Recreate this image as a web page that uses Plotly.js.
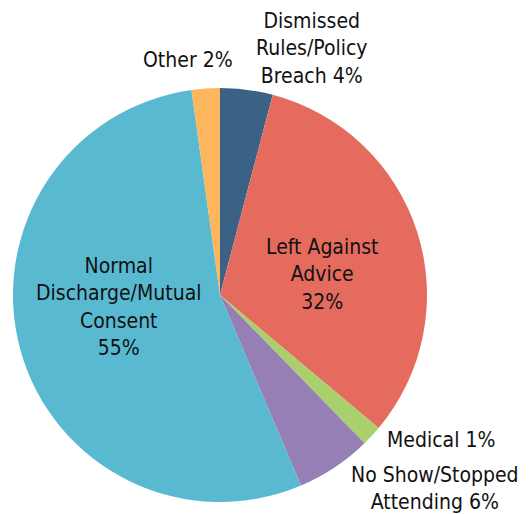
<!DOCTYPE html>
<html>
<head>
<meta charset="utf-8">
<script src="https://cdn.plot.ly/plotly-3.0.1.min.js"></script>
<style>html,body{margin:0;padding:0;background:#fff}#chart{width:529px;height:514px}</style>
</head>
<body>
<div id="chart"></div>
<script>
const categories = ["Dismissed Rules/Policy Breach", "Left Against Advice", "Medical", "No Show/Stopped Attending", "Normal Discharge/Mutual Consent", "Other"];
const values = [4.1, 32, 1.6, 5.9, 54.2, 2.2];
const labelTexts = ["Dismissed<br>Rules/Policy<br>Breach 4%", "Left Against<br>Advice<br>32%", "Medical 1%", "No Show/Stopped<br>Attending 6%", "Normal<br>Discharge/Mutual<br>Consent<br>55%", "Other 2%"];
const colors = ["#3b6285", "#e56b5f", "#a9d06c", "#967fb5", "#59b9d1", "#fbb65e"];

const W = 529, H = 514;
const labelPos = [[312, 48], [322, 274], [441, 440], [435, 488], [118, 307], [188, 60]];
const FONT = "DejaVu Sans Condensed, Liberation Sans Narrow, sans-serif";

const trace = {
  type: "pie",
  labels: categories,
  values: values,
  sort: false,
  direction: "clockwise",
  rotation: 0,
  textinfo: "none",
  hoverinfo: "label+percent",
  marker: {colors: colors, line: {width: 0}},
  domain: {x: [13/W, 427/W], y: [1 - 502/H, 1 - 88/H]},
  showlegend: false
};

const annotations = labelTexts.map((t, i) => ({
  text: t,
  xref: "paper", yref: "paper",
  x: labelPos[i][0] / W, y: 1 - labelPos[i][1] / H,
  xanchor: "center", yanchor: "middle",
  showarrow: false,
  align: "center",
  font: {family: FONT, size: 21, color: "#111111"}
}));

Plotly.newPlot("chart", [trace], {
  width: W, height: H,
  margin: {l: 0, r: 0, t: 0, b: 0},
  paper_bgcolor: "#ffffff",
  annotations: annotations
}, {displayModeBar: false, staticPlot: true});
</script>
</body>
</html>
